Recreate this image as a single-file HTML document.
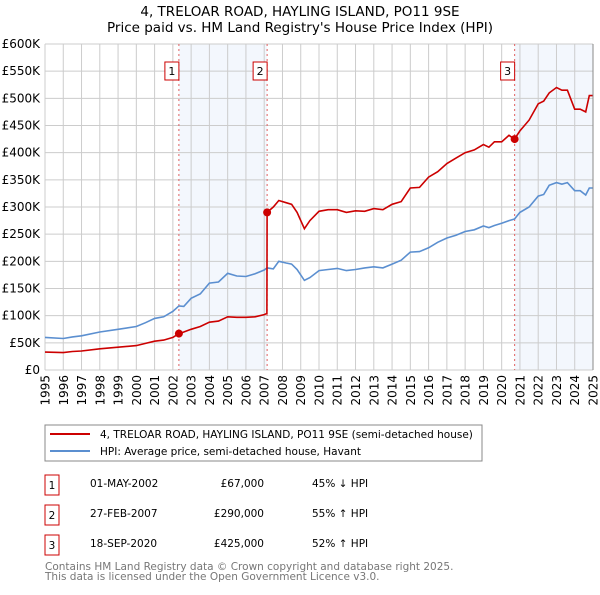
<!DOCTYPE html>
<html><head><meta charset="utf-8"><style>
body{margin:0;background:#fff}
svg text{font-family:"DejaVu Sans","Liberation Sans",sans-serif}
</style></head><body>
<svg id="c" width="600" height="590" xmlns="http://www.w3.org/2000/svg">
<text x="300" y="16" text-anchor="middle" font-size="13.5">4, TRELOAR ROAD, HAYLING ISLAND, PO11 9SE</text>
<text x="300" y="32" text-anchor="middle" font-size="13.5">Price paid vs. HM Land Registry's House Price Index (HPI)</text>
<g id="plot"></g>
<g font-size="12" text-anchor="end">
<text transform="translate(49.5,375) rotate(-90)">1995</text>
<text transform="translate(67.8,375) rotate(-90)">1996</text>
<text transform="translate(86.1,375) rotate(-90)">1997</text>
<text transform="translate(104.3,375) rotate(-90)">1998</text>
<text transform="translate(122.6,375) rotate(-90)">1999</text>
<text transform="translate(140.8,375) rotate(-90)">2000</text>
<text transform="translate(159.1,375) rotate(-90)">2001</text>
<text transform="translate(177.4,375) rotate(-90)">2002</text>
<text transform="translate(195.6,375) rotate(-90)">2003</text>
<text transform="translate(213.9,375) rotate(-90)">2004</text>
<text transform="translate(232.2,375) rotate(-90)">2005</text>
<text transform="translate(250.4,375) rotate(-90)">2006</text>
<text transform="translate(268.7,375) rotate(-90)">2007</text>
<text transform="translate(286.9,375) rotate(-90)">2008</text>
<text transform="translate(305.2,375) rotate(-90)">2009</text>
<text transform="translate(323.5,375) rotate(-90)">2010</text>
<text transform="translate(341.7,375) rotate(-90)">2011</text>
<text transform="translate(360.0,375) rotate(-90)">2012</text>
<text transform="translate(378.3,375) rotate(-90)">2013</text>
<text transform="translate(396.5,375) rotate(-90)">2014</text>
<text transform="translate(414.8,375) rotate(-90)">2015</text>
<text transform="translate(433.0,375) rotate(-90)">2016</text>
<text transform="translate(451.3,375) rotate(-90)">2017</text>
<text transform="translate(469.6,375) rotate(-90)">2018</text>
<text transform="translate(487.8,375) rotate(-90)">2019</text>
<text transform="translate(506.1,375) rotate(-90)">2020</text>
<text transform="translate(524.4,375) rotate(-90)">2021</text>
<text transform="translate(542.6,375) rotate(-90)">2022</text>
<text transform="translate(560.9,375) rotate(-90)">2023</text>
<text transform="translate(579.1,375) rotate(-90)">2024</text>
<text transform="translate(597.4,375) rotate(-90)">2025</text>
</g>
<rect x="45" y="425" width="437" height="36" fill="#fff" stroke="#888"/>
<line x1="50" y1="434" x2="90" y2="434" stroke="#cc0000" stroke-width="2"/>
<text x="100" y="438" font-size="10.5">4, TRELOAR ROAD, HAYLING ISLAND, PO11 9SE (semi-detached house)</text>
<line x1="50" y1="451" x2="90" y2="451" stroke="#5b8fd0" stroke-width="2"/>
<text x="100" y="455" font-size="10.5">HPI: Average price, semi-detached house, Havant</text>
<g font-size="10.5">
<rect x="45" y="475" width="14" height="20" fill="none" stroke="#cc0000"/><text x="52" y="489" text-anchor="middle">1</text>
<text x="90" y="487">01-MAY-2002</text><text x="264" y="487" text-anchor="end">£67,000</text><text x="312" y="487">45% ↓ HPI</text>
<rect x="45" y="505" width="14" height="20" fill="none" stroke="#cc0000"/><text x="52" y="519" text-anchor="middle">2</text>
<text x="90" y="517">27-FEB-2007</text><text x="264" y="517" text-anchor="end">£290,000</text><text x="312" y="517">55% ↑ HPI</text>
<rect x="45" y="535" width="14" height="20" fill="none" stroke="#cc0000"/><text x="52" y="549" text-anchor="middle">3</text>
<text x="90" y="547">18-SEP-2020</text><text x="264" y="547" text-anchor="end">£425,000</text><text x="312" y="547">52% ↑ HPI</text>
</g>
<text x="45" y="570" font-size="10.5" fill="#777">Contains HM Land Registry data © Crown copyright and database right 2025.</text>
<text x="45" y="580" font-size="10.5" fill="#777">This data is licensed under the Open Government Licence v3.0.</text>
</svg>
<script>
const hpiYears=[1995,1996,1996.5,1997,1998,1999,2000,2000.5,2001,2001.5,2002,2002.33,2002.6,2003,2003.5,2004,2004.5,2005,2005.5,2006,2006.5,2007,2007.16,2007.5,2007.8,2008.2,2008.5,2008.8,2009.2,2009.5,2010,2010.5,2011,2011.5,2012,2012.5,2013,2013.5,2014,2014.5,2015,2015.5,2016,2016.5,2017,2017.5,2018,2018.5,2019,2019.3,2019.6,2020,2020.4,2020.7,2021,2021.5,2022,2022.3,2022.6,2023,2023.3,2023.6,2024,2024.3,2024.6,2024.8,2025];
const hpiValues=[60,58,61,63,70,75,80,87,95,98,108,118,117,132,140,160,162,178,173,172,177,184,188,186,200,197,195,185,165,170,183,185,187,183,185,188,190,188,195,202,217,218,225,235,243,248,255,258,265,262,266,270,275,278,290,300,320,323,340,345,342,345,330,330,322,335,335];
const redYears=[1995,1996,1996.5,1997,1998,1999,2000,2000.5,2001,2001.5,2002,2002.33,2002.6,2003,2003.5,2004,2004.5,2005,2005.5,2006,2006.5,2007,2007.15,2007.16,2007.5,2007.8,2008.2,2008.5,2008.8,2009.2,2009.5,2010,2010.5,2011,2011.5,2012,2012.5,2013,2013.5,2014,2014.5,2015,2015.5,2016,2016.5,2017,2017.5,2018,2018.5,2019,2019.3,2019.6,2020,2020.4,2020.7,2021,2021.5,2022,2022.3,2022.6,2023,2023.3,2023.6,2024,2024.3,2024.6,2024.8,2025];
const redValues=[33,32,34,35,39,42,45,49,53,55,60,67,70,75,80,88,90,98,97,97,98,102,104,290,300,312,308,305,290,260,275,292,295,295,290,293,292,297,295,305,310,335,336,355,365,380,390,400,405,415,410,420,420,432,425,440,460,490,495,510,520,515,515,480,480,475,505,505];
const saleYears=[2002.33,2007.16,2020.71];
const saleValues=[67,290,425];
const saleLabels=["1","2","3"];
const yTicks=[0,50,100,150,200,250,300,350,400,450,500,550,600];
const yTickLabels=["£0","£50K","£100K","£150K","£200K","£250K","£300K","£350K","£400K","£450K","£500K","£550K","£600K"];
const xTicks=[1995,1996,1997,1998,1999,2000,2001,2002,2003,2004,2005,2006,2007,2008,2009,2010,2011,2012,2013,2014,2015,2016,2017,2018,2019,2020,2021,2022,2023,2024,2025];

const X0=45,X1=593,Y0=370,Y1=44;
const xs=y=>X0+(y-1995)/(2025-1995)*(X1-X0);
const ys=v=>Y0-v/600*(Y0-Y1);
const NS="http://www.w3.org/2000/svg";
const g=document.getElementById('plot');
function mk(t,a){const e=document.createElementNS(NS,t);for(const k in a)e.setAttribute(k,a[k]);g.appendChild(e);return e;}
let e;
e=mk('rect',{x:xs(saleYears[0]),y:Y1,width:xs(saleYears[1])-xs(saleYears[0]),height:Y0-Y1,fill:'#eef3fc',opacity:0.7});


e=mk('rect',{x:xs(saleYears[2]),y:Y1,width:X1-xs(saleYears[2]),height:Y0-Y1,fill:'#eef3fc',opacity:0.7});


yTicks.forEach((v,i)=>{
 e=mk('line',{x1:X0,x2:X1,y1:ys(v),y2:ys(v),stroke:'#ccc'});
 
 
 e=mk('text',{x:40,y:ys(v)+4,'text-anchor':'end','font-size':12});
 e.textContent=yTickLabels[i];
 
 
});
xTicks.forEach(y=>{
 e=mk('line',{x1:xs(y),x2:xs(y),y1:Y1,y2:Y0,stroke:'#ccc'});
 
 
});
saleYears.forEach((y,i)=>{
 e=mk('line',{x1:xs(y),x2:xs(y),y1:Y1,y2:Y0,stroke:'#e06060','stroke-dasharray':'2,3'});
 
 
});
function path(xa,va,col,name){
 const d=xa.map((x,i)=>(i?'L':'M')+xs(x).toFixed(1)+','+ys(va[i]).toFixed(1)).join('');
 e=mk('path',{d:d,fill:'none',stroke:col,'stroke-width':1.6});
 
 
}
path(hpiYears,hpiValues,'#5b8fd0','hpi-line');
path(redYears,redValues,'#cc0000','property-price-line');
saleYears.forEach((y,i)=>{
 e=mk('circle',{cx:xs(y),cy:ys(saleValues[i]),r:4,fill:'#cc0000'});
 
 
 e=mk('rect',{x:xs(y)-14,y:62,width:14,height:18,fill:'#fff',stroke:'#cc0000'});
 
 
 e=mk('text',{x:xs(y)-7,y:75,'text-anchor':'middle','font-size':11});
 e.textContent=saleLabels[i];
 
 
});
e=mk('line',{x1:X1,x2:X1,y1:Y1,y2:Y0,stroke:'#888'});


</script>
</body></html>
